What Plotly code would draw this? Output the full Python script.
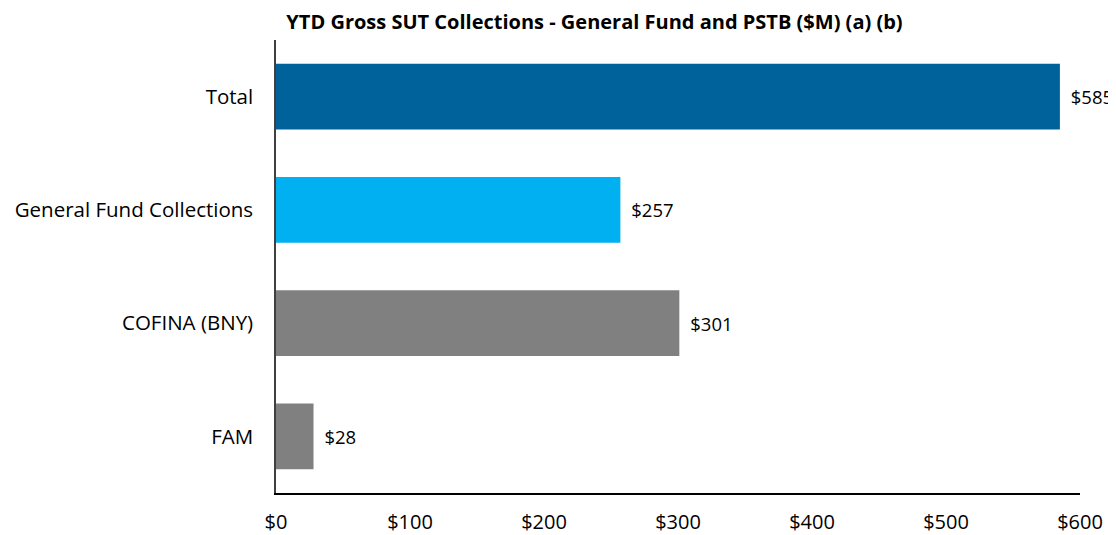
import plotly.graph_objects as go

categories = ["Total", "General Fund Collections", "COFINA (BNY)", "FAM"]
values = [585, 257, 301, 28]
colors = ["#00629B", "#00B0F0", "#808080", "#808080"]
tick_vals = [0, 100, 200, 300, 400, 500, 600]
tick_text = ["$0", "$100", "$200", "$300", "$400", "$500", "$600"]

FONT = "Open Sans, Calibri, sans-serif"
FS = 20
# page body has an 8px margin; compensate in figure geometry
W, H = 1108, 527

fig = go.Figure(go.Bar(
    y=categories,
    x=values,
    orientation="h",
    marker=dict(color=colors, line=dict(width=0)),
    width=0.58,
    text=["\u00a0\u2009$" + str(v) for v in values],
    textposition="outside",
    textfont=dict(family=FONT, size=18.5, color="#000000"),
    cliponaxis=False,
))

fig.update_layout(
    width=W, height=H,
    margin=dict(l=268, r=36, t=32, b=42, autoexpand=False),
    paper_bgcolor="white", plot_bgcolor="white",
    showlegend=False,
    title=dict(
        text="<b>YTD Gross SUT Collections - General Fund and PSTB ($M) (a) (b)</b>",
        x=586.5/W, xref="container", xanchor="center",
        y=1 - 14/H, yref="container", yanchor="middle",
        font=dict(family=FONT, size=20, color="#000000"),
    ),
    font=dict(family=FONT, size=FS, color="#000000"),
)

fig.update_xaxes(
    range=[0, 600], automargin=False,
    tickvals=tick_vals, ticktext=tick_text,
    showgrid=False, zeroline=False,
    showline=True, linecolor="#000000", linewidth=1.5,
    ticks="", ticklabelstandoff=10,
    tickfont=dict(family=FONT, size=FS, color="#000000"),
)
fig.update_yaxes(
    categoryorder="array", categoryarray=categories[::-1],
    automargin=False,
    showgrid=False, zeroline=False,
    showline=True, linecolor="#404040", linewidth=1.5,
    ticks="", ticklabelstandoff=17,
    tickfont=dict(family=FONT, size=20.5, color="#000000"),
)

fig.write_html("out.html")
